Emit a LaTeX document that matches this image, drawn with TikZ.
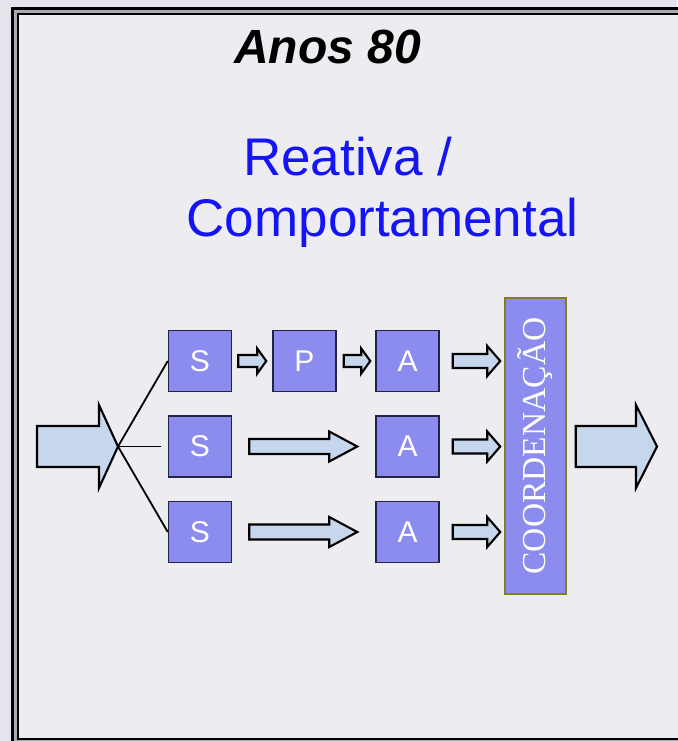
\documentclass[tikz,border=0pt]{standalone}
\usepackage{fontspec}
\setmainfont{Liberation Sans}
\newfontfamily\serifcoord{Liberation Serif}
\usetikzlibrary{calc}
\definecolor{outerbg}{RGB}{228,228,236}
\definecolor{innerbg}{RGB}{236,236,241}
\definecolor{framegap}{RGB}{170,170,176}
\definecolor{boxfill}{RGB}{140,140,238}
\definecolor{boxedge}{RGB}{35,35,70}
\definecolor{arrowfill}{RGB}{198,214,236}
\definecolor{titleblue}{RGB}{20,20,245}
\definecolor{coordedge}{RGB}{128,128,32}
\newcommand\blockarrow[5]{%
  \draw[barrow] let \p1=(#1), \p2=(#2) in
    (\x1,\y2+#3) -- (\x2-#5,\y2+#3) -- (\x2-#5,\y2+#4) -- (\x2,\y2)
    -- (\x2-#5,\y2-#4) -- (\x2-#5,\y2-#3) -- (\x1,\y2-#3) -- cycle;}
\begin{document}
\begin{tikzpicture}[x=1pt,y=-1pt,
  stagebox/.style={draw=boxedge, line width=1.5pt, fill=boxfill,
    minimum width=63pt, minimum height=61pt, inner sep=0pt, text=white,
    font=\fontsize{30}{30}\selectfont},
  barrow/.style={draw=black, line width=2.1pt, fill=arrowfill, line join=miter},
  fan/.style={draw=black, line width=1.8pt}]
\useasboundingbox (0,0) rectangle (677,741);
\fill[outerbg] (0,0) rectangle (677,741);
\draw[line width=3pt, fill=framegap] (12,9) rectangle (720,790);
\draw[line width=2pt, fill=innerbg] (17.5,14) rectangle (710,738.5);

\node[anchor=base west, inner sep=0pt,
  font=\fontsize{48}{52}\selectfont\bfseries\itshape] (title) at (234,64) {Anos 80};
\node[anchor=base west, inner sep=0pt, text=titleblue,
  font=\fontsize{53}{60}\selectfont] (sub1) at (243,175) {Reativa /};
\node[anchor=base west, inner sep=0pt, text=titleblue,
  font=\fontsize{53}{60}\selectfont] (sub2) at (186.5,236) {Comportamental};

\node[stagebox] (s1) at (200,361) {S};
\node[stagebox] (p1) at (304.5,361) {P};
\node[stagebox] (a1) at (407.5,361) {A};
\node[stagebox] (s2) at (200,446.5) {S};
\node[stagebox] (a2) at (407.5,446.5) {A};
\node[stagebox] (s3) at (200,532) {S};
\node[stagebox] (a3) at (407.5,532) {A};
\node[draw=coordedge, line width=1.5pt, fill=boxfill, minimum width=61pt,
  minimum height=296pt, inner sep=0pt] (coord) at (535.5,446) {};
\node[rotate=90, text=white, inner sep=0pt,
  font=\serifcoord\fontsize{33.5}{34}\selectfont] (coordtext) at (coord.center) {COORDENAÇÃO};

\coordinate (in) at (37,446.5);
\coordinate (fanpt) at (118,446.5);

\blockarrow{in}{fanpt}{20.5pt}{41.5pt}{19pt}
\draw[fan] (fanpt) -- (s1.west);
\draw[fan] (fanpt) -- ([xshift=-7pt]s2.west);
\draw[fan] (fanpt) -- (s3.west);

\blockarrow{[xshift=6pt]s1.east}{[xshift=-6pt]p1.west}{6pt}{12.5pt}{9pt}
\blockarrow{[xshift=7pt]p1.east}{[xshift=-5pt]a1.west}{6pt}{12.5pt}{9pt}
\blockarrow{[xshift=17pt]s2.east}{[xshift=-18pt]a2.west}{7.5pt}{15pt}{28pt}
\blockarrow{[xshift=17pt]s3.east}{[xshift=-18pt]a3.west}{7.5pt}{15pt}{28pt}
\blockarrow{[xshift=13pt]a1.east}{[xshift=-4pt]coord.west |- a1.east}{7pt}{15pt}{13pt}
\blockarrow{[xshift=13pt]a2.east}{[xshift=-4pt]coord.west |- a2.east}{7pt}{15pt}{13pt}
\blockarrow{[xshift=13pt]a3.east}{[xshift=-4pt]coord.west |- a3.east}{7pt}{15pt}{13pt}
\coordinate (out) at (657,446.5);
\blockarrow{[xshift=9pt]coord.east}{out}{20.5pt}{41.5pt}{21pt}
\end{tikzpicture}
\end{document}
